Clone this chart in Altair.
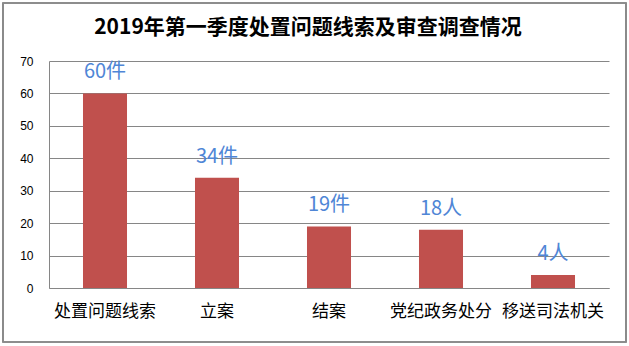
import altair as alt
import pandas as pd

categories = ["处置问题线索", "立案", "结案", "党纪政务处分", "移送司法机关"]
values = [60, 34, 19, 18, 4]
labels = ["60件", "34件", "19件", "18人", "4人"]
title_text = "2019年第一季度处置问题线索及审查调查情况"
y_ticks = [0, 10, 20, 30, 40, 50, 60, 70]

df = pd.DataFrame({"cat": categories, "val": values, "lab": labels})

CJK = "Noto Sans CJK SC"

x_enc = alt.X(
    "cat:N",
    sort=categories,
    scale=alt.Scale(paddingInner=0.607, paddingOuter=0.3035),
    axis=alt.Axis(
        title=None,
        labelAngle=0,
        labelFont=CJK,
        labelFontSize=17,
        labelColor="#000000",
        labelPadding=15,
        ticks=False,
        domainColor="#868686",
        domainWidth=1,
        grid=False,
    ),
)
y_enc = alt.Y(
    "val:Q",
    scale=alt.Scale(domain=[0, 70], nice=False),
    axis=alt.Axis(
        title=None,
        values=y_ticks,
        labelFont="Liberation Sans",
        labelFontSize=12,
        labelColor="#000000",
        labelPadding=16,
        ticks=False,
        domainColor="#868686",
        gridColor="#868686",
        gridWidth=1,
        grid=True,
    ),
)

bars = alt.Chart(df).mark_bar(color="#C0504D").encode(x=x_enc, y=y_enc)

text = alt.Chart(df).mark_text(
    font=CJK,
    fontSize=20,
    color="#4F86D6",
    baseline="middle",
    align="center",
    dy=-21,
).encode(x=x_enc, y=y_enc, text="lab:N")

frame = alt.Chart(df).mark_rect(
    fill=None, stroke="#8A8A8A", strokeWidth=1.2
).encode(
    x=alt.value(-46), x2=alt.value(577), y=alt.value(-58), y2=alt.value(281)
)

chart = (
    alt.layer(bars, text, frame)
    .properties(
        width=560,
        height=227,
        autosize=alt.AutoSizeParams(type="none"),
        padding={"left": 49, "top": 61, "right": 20, "bottom": 58},
        background="white",
        title=alt.Title(
            title_text,
            font=CJK,
            fontSize=21,
            fontWeight="bold",
            color="#000000",
            anchor="middle",
            baseline="middle",
            dx=-21,
            dy=47,
            offset=0,
        ),
    )
    .configure_view(stroke=None)
)

chart.save("out.html", embed_options={"renderer": "svg", "actions": False})
